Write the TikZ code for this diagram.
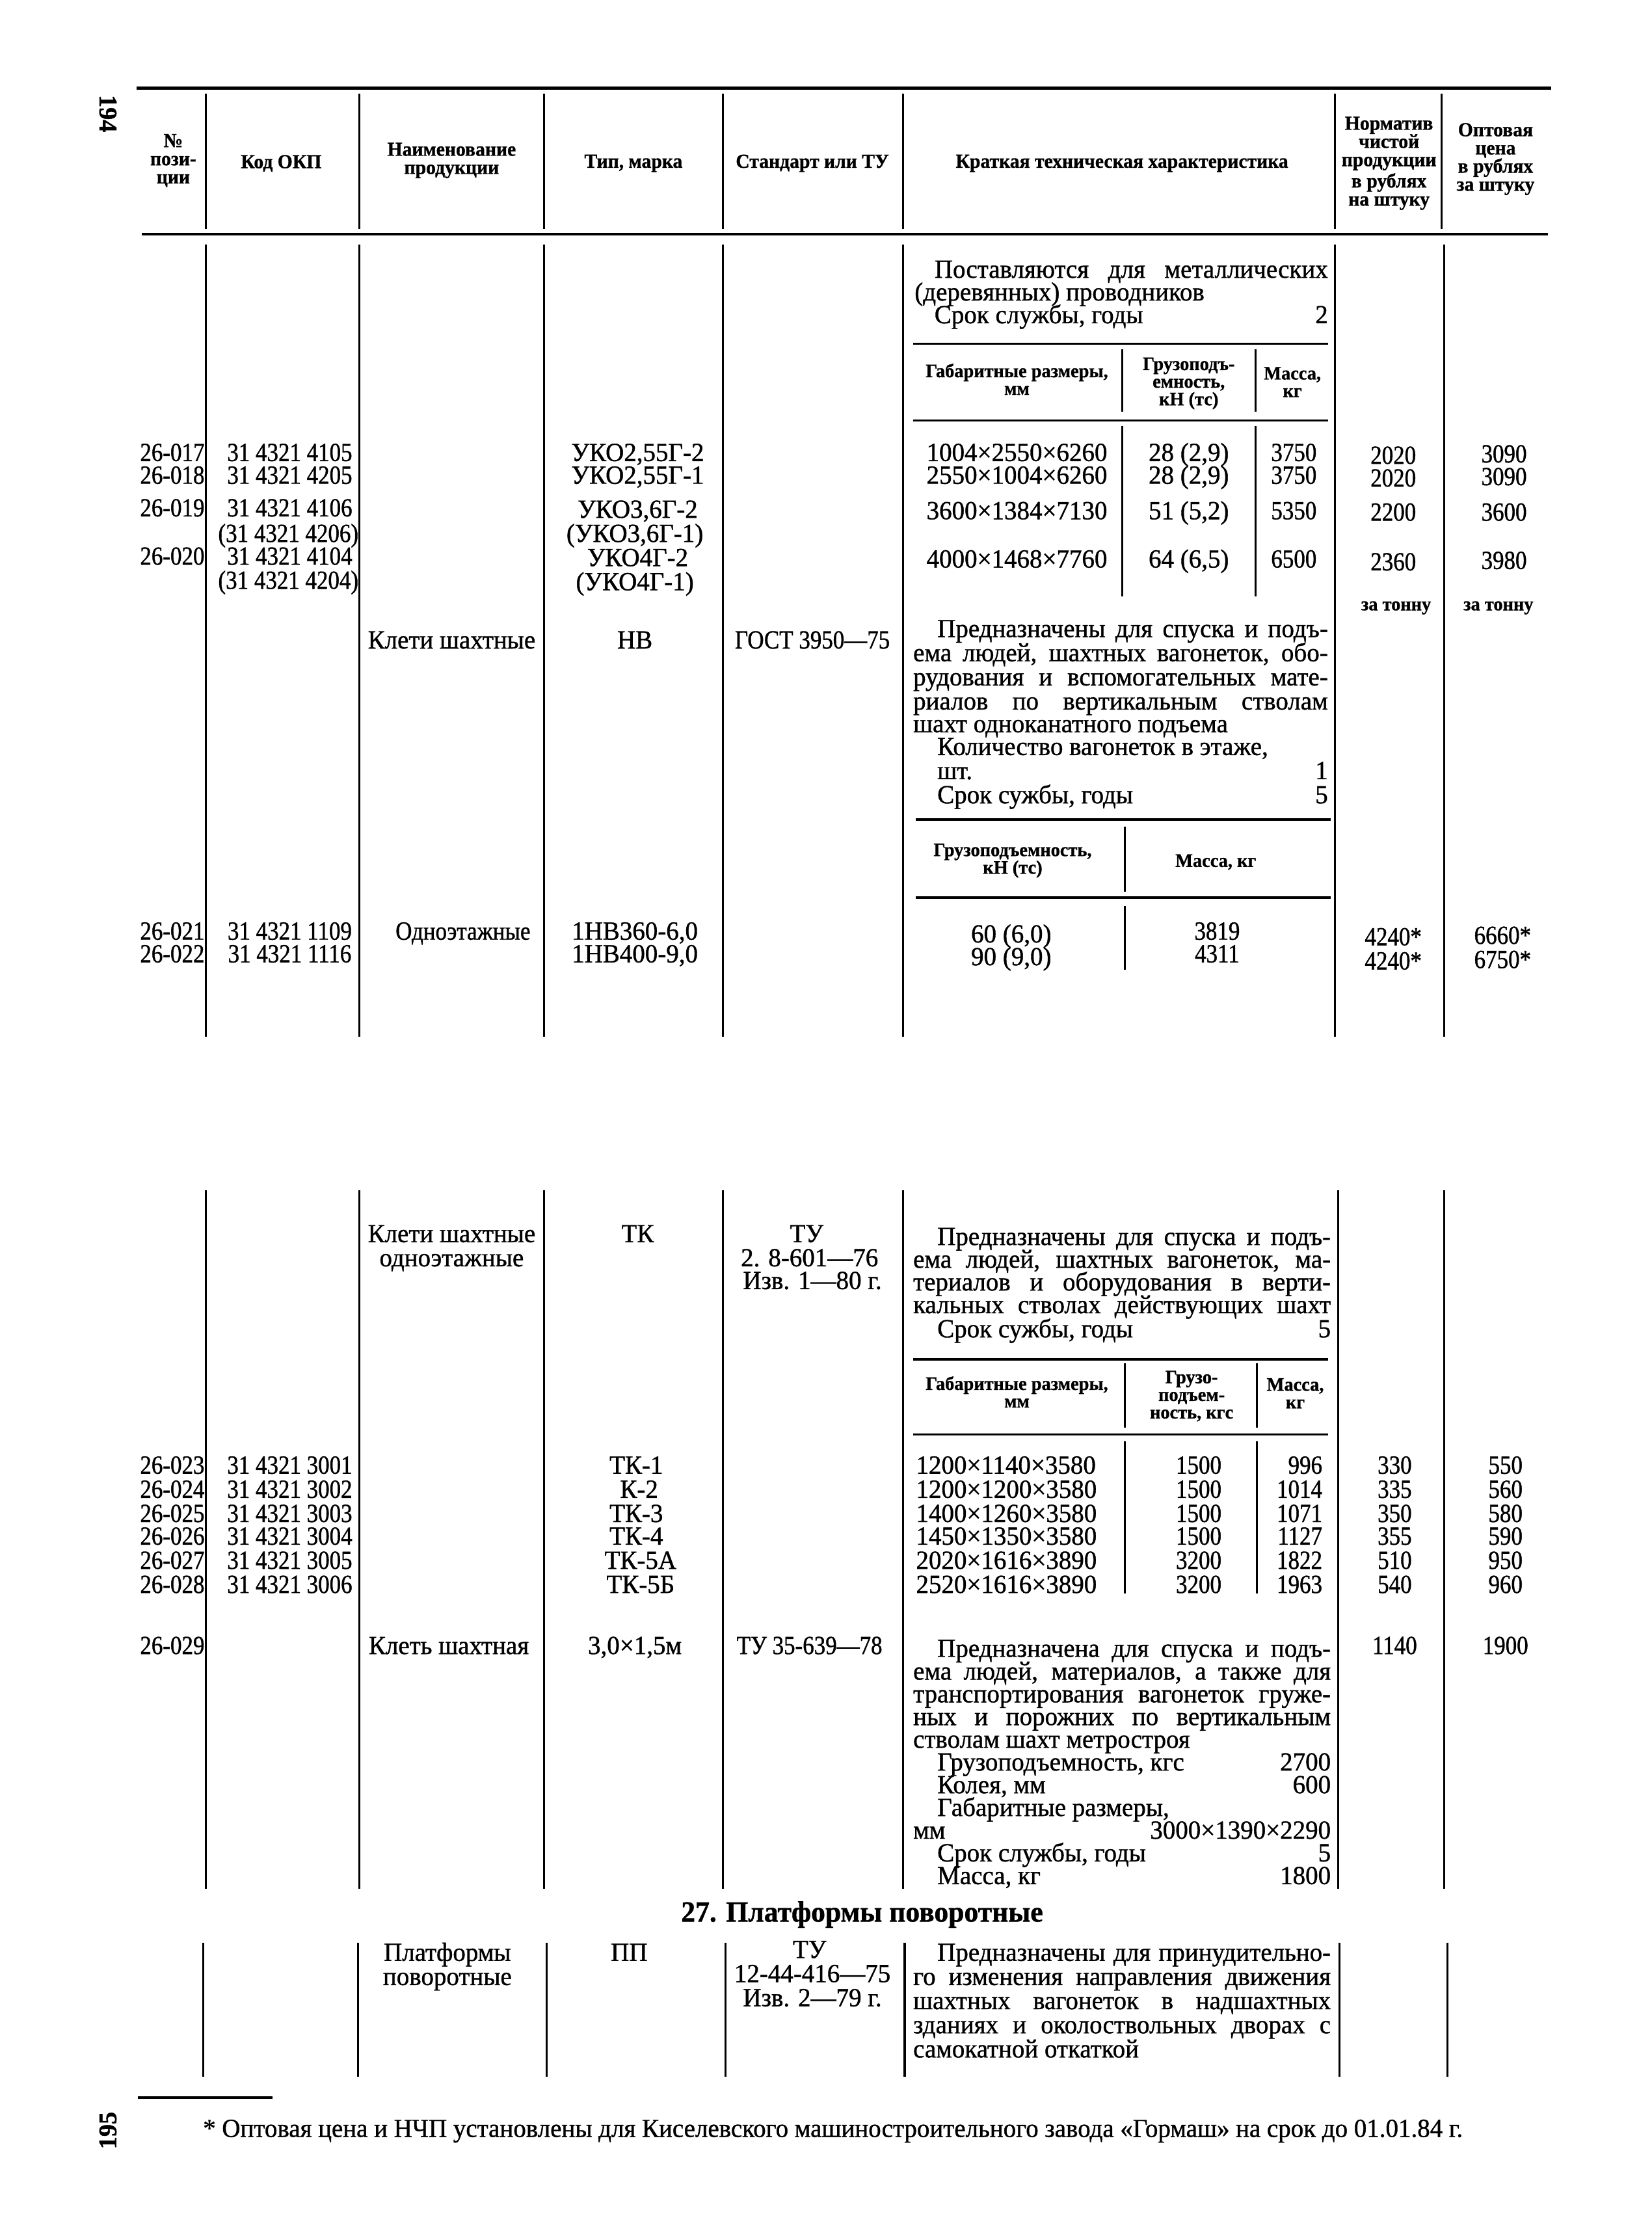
\documentclass[tikz,border=0pt]{standalone}
\usepackage{fontspec}
\setmainfont{Liberation Serif}[FakeStretch=0.97, FakeBold=1]
\newfontfamily\numfam{Liberation Serif}[FakeStretch=0.87, FakeBold=1]
\newcounter{nd}
\newcommand\bodyf{\fontsize{9.2}{9.6}\selectfont}
\newcommand\numf{\numfam\fontsize{9.2}{9.6}\selectfont}
\newcommand\hdrf{\bfseries\fontsize{7.0}{6.4}\selectfont}
\newcommand\ihdrf{\bfseries\fontsize{6.7}{6.2}\selectfont}
\tikzset{
  txt/.style={inner sep=0pt, outer sep=0pt, font=\bodyf},
  num/.style={font=\numf},
  hdr/.style={inner sep=0pt, outer sep=0pt, font=\hdrf, align=center},
  ihdr/.style={inner sep=0pt, outer sep=0pt, font=\ihdrf, align=center},
  vline/.style={line width=0.7pt},
  hrule/.style={line width=1.0pt},
  irule/.style={line width=0.8pt}
}
\newcommand\Tc[3][]{\stepcounter{nd}\node[txt,anchor=mid,#1] (n\arabic{nd}) at (#2) {#3};}
\newcommand\Tl[3][]{\stepcounter{nd}\node[txt,anchor=mid west,#1] (n\arabic{nd}) at (#2) {#3};}
\newcommand\Tr[3][]{\stepcounter{nd}\node[txt,anchor=mid east,#1] (n\arabic{nd}) at (#2) {#3};}
\newcommand\Nc[2]{\Tc[num]{#1}{#2}}
\newcommand\Nr[2]{\Tr[num]{#1}{#2}}
\newcommand\Tj[4]{\stepcounter{nd}\node[txt,anchor=mid west] (n\arabic{nd}) at (#1,#3) {\makebox[\dimexpr 1pt*\numexpr #2-#1\relax/2\relax][s]{#4}};}
\begin{document}
\begin{tikzpicture}[x={(0.5pt,0)},y={(0,-0.5pt)}]
\fill[white] (0,0) rectangle (1163,1568);
\useasboundingbox (0,0) rectangle (1163,1568);

% ---------- page numbers ----------
\node[inner sep=0pt,font=\bfseries\fontsize{9}{9}\selectfont,rotate=-90] (pg194) at (76,80) {194};
\node[inner sep=0pt,font=\bfseries\fontsize{9}{9}\selectfont,rotate=90] (pg195) at (76,1500) {195};

% ---------- header ----------
\draw[hrule] (96,62) -- (1092,62);
\draw[hrule] (100,165) -- (1090,165);
\foreach \x in {145,253,383,509,636,940,1015} \draw[vline] (\x,66) -- (\x,161);
\node[hdr] (h1) at (122,113) {№\\пози-\\ции};
\node[hdr] (h2) at (198,115) {Код ОКП};
\node[hdr] (h3) at (318,113) {Наименование\\продукции};
\node[hdr] (h4) at (446,115) {Тип, марка};
\node[hdr] (h5) at (572,115) {Стандарт или ТУ};
\node[hdr] (h6) at (790,115) {Краткая техническая характеристика};
\node[hdr] (h7) at (978,115) {Норматив\\чистой\\продукции\\в рублях\\на штуку};
\node[hdr] (h8) at (1053,112) {Оптовая\\цена\\в рублях\\за штуку};

% ---------- section 1 ----------
\foreach \x in {145,253,383,509,636,940,1017} \draw[vline] (\x,172) -- (\x,730);
\Tj{658}{935}{191}{Поставляются для металлических}
\Tl{644,207}{(деревянных) проводников}
\Tl{658,223}{Срок службы, годы}
\Tr{935,223}{2}
\draw[irule] (643,242) -- (935,242);
\draw[irule] (643,296) -- (935,296);
\foreach \x in {790,884} {\draw[vline] (\x,246) -- (\x,290); \draw[vline] (\x,300) -- (\x,420);}
\node[ihdr] (ih1) at (716,267) {Габаритные размеры,\\мм};
\node[ihdr] (ih2) at (837,270) {Грузоподъ-\\емность,\\кН (тс)};
\node[ihdr] (ih3) at (910,269) {Масса,\\кг};

\Nr{144,320}{26-017}\Nc{204,320}{31 4321 4105}\Tc{449,320}{УКО2,55Г-2}\Tc{716,320}{1004×2550×6260}\Tc{837,320}{28 (2,9)}\Nc{911,320}{3750}\Nc{981,322}{2020}\Nc{1059,321}{3090}
\Nr{144,336}{26-018}\Nc{204,336}{31 4321 4205}\Tc{449,336}{УКО2,55Г-1}\Tc{716,336}{2550×1004×6260}\Tc{837,336}{28 (2,9)}\Nc{911,336}{3750}\Nc{981,338}{2020}\Nc{1059,337}{3090}
\Nr{144,359}{26-019}\Nc{204,359}{31 4321 4106}\Tc{449,360}{УКО3,6Г-2}\Tc{716,361}{3600×1384×7130}\Tc{837,361}{51 (5,2)}\Nc{911,361}{5350}\Nc{981,362}{2200}\Nc{1059,362}{3600}
\Nc{203,377}{(31 4321 4206)}\Tc{447,377}{(УКО3,6Г-1)}
\Nr{144,393}{26-020}\Nc{204,393}{31 4321 4104}\Tc{449,394}{УКО4Г-2}\Tc{716,395}{4000×1468×7760}\Tc{837,395}{64 (6,5)}\Nc{911,395}{6500}\Nc{981,397}{2360}\Nc{1059,396}{3980}
\Nc{203,410}{(31 4321 4204)}\Tc{447,411}{(УКО4Г-1)}
\node[ihdr] (zt1) at (983,428) {за тонну};
\node[ihdr] (zt2) at (1055,428) {за тонну};

\Tc{318,452}{Клети шахтные}\Tc{447,452}{НВ}\Nc{572,452}{ГОСТ 3950—75}
\Tj{660}{935}{444}{Предназначены для спуска и подъ-}
\Tj{643}{935}{461}{ема людей, шахтных вагонеток, обо-}
\Tj{643}{935}{478}{рудования и вспомогательных мате-}
\Tj{643}{935}{495}{риалов по вертикальным стволам}
\Tl{643,511}{шахт одноканатного подъема}
\Tl{660,527}{Количество вагонеток в этаже,}
\Tl{660,544}{шт.}\Tr{935,544}{1}
\Tl{660,561}{Срок сужбы, годы}\Tr{935,561}{5}
\draw[irule] (645,577) -- (937,577);
\draw[irule] (645,632) -- (937,632);
\draw[vline] (792,582) -- (792,628);
\draw[vline] (792,638) -- (792,683);
\node[ihdr] (ih4) at (713,606) {Грузоподъемность,\\кН (тс)};
\node[ihdr] (ih5) at (856,607) {Масса, кг};
\Nr{144,657}{26-021}\Nc{204,657}{31 4321 1109}\Nc{326,657}{Одноэтажные}\Tc{447,657}{1НВ360-6,0}\Tc{712,659}{60 (6,0)}\Nc{857,657}{3819}\Nc{981,661}{4240*}\Nc{1058,660}{6660*}
\Nr{144,673}{26-022}\Nc{204,673}{31 4321 1116}\Tc{447,673}{1НВ400-9,0}\Tc{712,675}{90 (9,0)}\Nc{857,673}{4311}\Nc{981,678}{4240*}\Nc{1058,677}{6750*}

% ---------- section 2 ----------
\foreach \x in {145,253,383,509,636,942,1017} \draw[vline] (\x,838) -- (\x,1330);
\Tc{318,870}{Клети шахтные}\Tc{318,887}{одноэтажные}
\Tc{449,870}{ТК}
\Tc{568,870}{ТУ}\Tc{570,887}{2. 8-601—76}\Tc{572,903}{Изв. 1—80 г.}
\Tj{660}{937}{872}{Предназначены для спуска и подъ-}
\Tj{643}{937}{888}{ема людей, шахтных вагонеток, ма-}
\Tj{643}{937}{904}{териалов и оборудования в верти-}
\Tj{643}{937}{920}{кальных стволах действующих шахт}
\Tl{660,937}{Срок сужбы, годы}\Tr{937,937}{5}
\draw[irule] (643,957) -- (935,957);
\draw[irule] (643,1010) -- (935,1010);
\foreach \x in {792,885} {\draw[vline] (\x,960) -- (\x,1005); \draw[vline] (\x,1015) -- (\x,1122);}
\node[ihdr] (ih6) at (716,980) {Габаритные размеры,\\мм};
\node[ihdr] (ih7) at (839,983) {Грузо-\\подъем-\\ность, кгс};
\node[ihdr] (ih8) at (912,981) {Масса,\\кг};
\Nr{144,1033}{26-023}\Nc{204,1033}{31 4321 3001}\Tc{448,1033}{ТК-1}\Tl{645,1033}{1200×1140×3580}\Nc{844,1033}{1500}\Nr{931,1033}{996}\Nc{982,1033}{330}\Nc{1060,1033}{550}
\Nr{144,1050}{26-024}\Nc{204,1050}{31 4321 3002}\Tc{450,1050}{К-2}\Tl{645,1050}{1200×1200×3580}\Nc{844,1050}{1500}\Nr{931,1050}{1014}\Nc{982,1050}{335}\Nc{1060,1050}{560}
\Nr{144,1067}{26-025}\Nc{204,1067}{31 4321 3003}\Tc{448,1067}{ТК-3}\Tl{645,1067}{1400×1260×3580}\Nc{844,1067}{1500}\Nr{931,1067}{1071}\Nc{982,1067}{350}\Nc{1060,1067}{580}
\Nr{144,1083}{26-026}\Nc{204,1083}{31 4321 3004}\Tc{448,1083}{ТК-4}\Tl{645,1083}{1450×1350×3580}\Nc{844,1083}{1500}\Nr{931,1083}{1127}\Nc{982,1083}{355}\Nc{1060,1083}{590}
\Nr{144,1100}{26-027}\Nc{204,1100}{31 4321 3005}\Tc{451,1100}{ТК-5А}\Tl{645,1100}{2020×1616×3890}\Nc{844,1100}{3200}\Nr{931,1100}{1822}\Nc{982,1100}{510}\Nc{1060,1100}{950}
\Nr{144,1117}{26-028}\Nc{204,1117}{31 4321 3006}\Tc{451,1117}{ТК-5Б}\Tl{645,1117}{2520×1616×3890}\Nc{844,1117}{3200}\Nr{931,1117}{1963}\Nc{982,1117}{540}\Nc{1060,1117}{960}

\Nr{144,1160}{26-029}\Tc{316,1160}{Клеть шахтная}\Tc{447,1160}{3,0×1,5м}\Nc{570,1160}{ТУ 35-639—78}\Nc{982,1160}{1140}\Nc{1060,1160}{1900}
\Tj{660}{937}{1162}{Предназначена для спуска и подъ-}
\Tj{643}{937}{1178}{ема людей, материалов, а также для}
\Tj{643}{937}{1194}{транспортирования вагонеток груже-}
\Tj{643}{937}{1210}{ных и порожних по вертикальным}
\Tl{643,1226}{стволам шахт метростроя}
\Tl{660,1242}{Грузоподъемность, кгс}\Tr{937,1242}{2700}
\Tl{660,1258}{Колея, мм}\Tr{937,1258}{600}
\Tl{660,1274}{Габаритные размеры,}
\Tl{643,1290}{мм}\Tr{937,1290}{3000×1390×2290}
\Tl{660,1306}{Срок службы, годы}\Tr{937,1306}{5}
\Tl{660,1322}{Масса, кг}\Tr{937,1322}{1800}

% ---------- section 27 ----------
\node[inner sep=0pt,font=\bfseries\fontsize{10.3}{12}\selectfont] (sec27) at (607,1348) {27. Платформы поворотные};
\foreach \x in {143,252,385,511,637,943,1019} \draw[vline] (\x,1368) -- (\x,1462);
\Tc{315,1376}{Платформы}\Tc{315,1393}{поворотные}
\Tc{443,1376}{ПП}
\Tc{570,1374}{ТУ}\Tc{572,1391}{12-44-416—75}\Tc{572,1408}{Изв. 2—79 г.}
\Tj{660}{937}{1376}{Предназначены для принудительно-}
\Tj{643}{937}{1393}{го изменения направления движения}
\Tj{643}{937}{1410}{шахтных вагонеток в надшахтных}
\Tj{643}{937}{1427}{зданиях и околоствольных дворах с}
\Tl{643,1444}{самокатной откаткой}

% ---------- footnote ----------
\draw[line width=0.9pt] (97,1477) -- (192,1477);
\Tj{143}{1030}{1500}{* Оптовая цена и НЧП установлены для Киселевского машиностроительного завода «Гормаш» на срок до 01.01.84 г.}
\end{tikzpicture}
\end{document}
